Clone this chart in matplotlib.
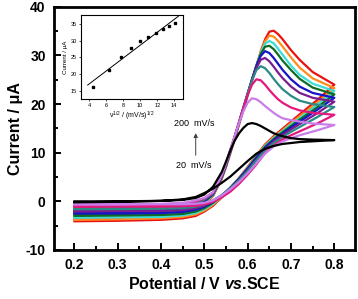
import numpy as np
import matplotlib
matplotlib.use('Agg')
import matplotlib.pyplot as plt
from matplotlib.ticker import MultipleLocator

plt.rcParams['font.family'] = ['Liberation Sans', 'DejaVu Sans']
plt.rcParams['axes.unicode_minus'] = False
plt.rcParams['mathtext.fontset'] = 'custom'
plt.rcParams['mathtext.rm'] = 'Liberation Sans:bold'
plt.rcParams['mathtext.it'] = 'Liberation Sans:italic:bold'

# scan rates (mV/s) and colours of the CV curves
rates = [20, 40, 60, 80, 100, 120, 140, 160, 180, 200]
colors = ['#000000', '#C97DEA', '#E5187D', '#2A8A86', '#7A1D90',
          '#1414C8', '#0E6B22', '#3CDCD8', '#FF8C1E', '#E81212']

# forward scan (0.2 -> 0.8 V)
e_fwd = [0.20, 0.30, 0.40, 0.45, 0.48, 0.50, 0.52, 0.54, 0.55, 0.56, 0.57, 0.58, 0.59,
         0.60, 0.61, 0.62, 0.63, 0.64, 0.65, 0.66, 0.67, 0.68, 0.70, 0.72, 0.75, 0.80]
i_fwd = [
    [0.0, 0.0, 0.1, 0.3, 0.7, 1.4, 3.0, 6.0, 8.2, 10.5, 12.5, 14.0, 15.1, 15.9, 16.1, 15.9, 15.5, 15.0, 14.5, 14.0, 13.7, 13.4, 13.0, 12.8, 12.7, 12.6],
    [-0.6, -0.6, -0.5, -0.3, 0.2, 0.7, 1.9, 5.4, 7.9, 10.7, 13.4, 16.1, 18.5, 20.3, 21.2, 21.0, 20.4, 19.6, 18.9, 18.2, 17.6, 17.1, 16.7, 16.4, 16.0, 15.7],
    [-1.0, -0.9, -0.8, -0.6, 0.0, 0.6, 1.8, 5.3, 7.8, 10.6, 13.4, 16.3, 19.2, 21.9, 24.0, 25.1, 24.9, 24.0, 22.9, 21.9, 21.0, 20.3, 19.3, 18.7, 18.2, 17.8],
    [-1.4, -1.3, -1.2, -1.0, -0.3, 0.4, 1.7, 5.2, 7.7, 10.5, 13.3, 16.3, 19.3, 22.2, 24.9, 27.0, 27.8, 27.4, 26.4, 25.2, 24.1, 23.1, 21.7, 20.7, 20.0, 19.4],
    [-1.8, -1.7, -1.5, -1.3, -0.5, 0.3, 1.6, 5.1, 7.6, 10.4, 13.2, 16.2, 19.2, 22.2, 25.0, 27.4, 29.1, 29.5, 28.8, 27.7, 26.5, 25.4, 23.6, 22.3, 21.3, 20.5],
    [-2.2, -2.1, -1.9, -1.6, -0.8, 0.1, 1.5, 5.0, 7.5, 10.3, 13.2, 16.2, 19.2, 22.2, 25.1, 27.8, 29.9, 30.9, 30.5, 29.5, 28.3, 27.1, 25.1, 23.6, 22.3, 21.3],
    [-2.6, -2.5, -2.2, -1.9, -1.0, -0.1, 1.4, 4.9, 7.4, 10.2, 13.1, 16.1, 19.1, 22.1, 25.1, 27.9, 30.3, 31.8, 32.0, 31.3, 30.2, 29.0, 27.0, 25.2, 23.4, 22.0],
    [-2.9, -2.8, -2.5, -2.1, -1.2, -0.3, 1.3, 4.8, 7.3, 10.1, 13.0, 16.0, 19.0, 22.0, 25.0, 27.9, 30.5, 32.4, 33.0, 32.5, 31.4, 30.2, 27.9, 26.0, 24.2, 22.7],
    [-3.2, -3.1, -2.8, -2.4, -1.4, -0.5, 1.2, 4.7, 7.2, 10.0, 12.9, 15.9, 18.9, 21.9, 24.9, 27.9, 30.7, 32.9, 34.1, 33.9, 33.0, 31.9, 29.6, 27.5, 25.3, 23.3],
    [-3.6, -3.5, -3.1, -2.7, -1.6, -0.7, 1.1, 4.6, 7.1, 9.9, 12.8, 15.8, 18.8, 21.8, 24.8, 27.8, 30.8, 33.3, 34.9, 35.1, 34.4, 33.4, 31.1, 29.1, 26.6, 24.0],
]

# reverse scan (0.8 -> 0.2 V)
e_rev = [0.80, 0.76, 0.72, 0.70, 0.68, 0.66, 0.64, 0.62, 0.60, 0.58,
         0.56, 0.54, 0.52, 0.50, 0.48, 0.45, 0.40, 0.30, 0.20]
i_rev = [
    [12.6, 12.4, 12.2, 12.0, 11.8, 11.4, 10.8, 9.8, 8.3, 6.7, 5.1, 3.8, 2.6, 1.7, 0.9, 0.4, 0.1, -0.1, -0.2],
    [15.7, 14.6, 13.6, 13.0, 12.3, 11.3, 9.8, 7.8, 5.8, 4.0, 2.5, 1.2, 0.2, -0.3, -0.5, -0.6, -0.6, -0.6, -0.6],
    [17.8, 16.0, 14.4, 13.6, 12.7, 11.5, 9.9, 7.6, 5.5, 3.6, 2.0, 0.8, -0.1, -0.6, -0.9, -1.0, -1.1, -1.1, -1.1],
    [19.4, 17.3, 15.3, 14.3, 13.2, 12.0, 10.5, 8.4, 6.2, 4.3, 2.7, 1.3, 0.2, -0.6, -1.1, -1.4, -1.5, -1.6, -1.6],
    [20.5, 18.1, 15.9, 14.8, 13.6, 12.3, 10.7, 8.6, 6.4, 4.4, 2.7, 1.2, 0.0, -0.9, -1.4, -1.8, -2.0, -2.0, -2.1],
    [21.3, 18.8, 16.4, 15.2, 13.9, 12.6, 11.0, 8.9, 6.7, 4.6, 2.8, 1.2, -0.1, -1.1, -1.7, -2.2, -2.4, -2.5, -2.5],
    [22.0, 19.3, 16.8, 15.5, 14.2, 12.8, 11.2, 9.1, 6.8, 4.7, 2.8, 1.1, -0.3, -1.4, -2.1, -2.6, -2.8, -2.9, -3.0],
    [22.7, 19.8, 17.1, 15.8, 14.4, 13.0, 11.4, 9.2, 6.9, 4.7, 2.8, 1.0, -0.5, -1.6, -2.4, -2.9, -3.2, -3.3, -3.4],
    [23.3, 20.3, 17.5, 16.1, 14.6, 13.2, 11.5, 9.3, 7.0, 4.8, 2.8, 0.9, -0.7, -1.9, -2.7, -3.2, -3.5, -3.7, -3.8],
    [24.0, 20.8, 17.9, 16.4, 14.9, 13.4, 11.7, 9.4, 7.1, 4.8, 2.7, 0.8, -0.9, -2.1, -3.0, -3.5, -3.8, -4.0, -4.1],
]

# inset: peak current vs square root of scan rate
sqrt_rate = [4.47, 6.32, 7.75, 8.94, 10.0, 10.95, 11.83, 12.65, 13.42, 14.14]
i_peak = [16.3, 21.3, 25.2, 27.9, 29.9, 31.2, 32.4, 33.4, 34.5, 35.4]

fig = plt.figure(figsize=(3.58, 2.99), dpi=100)
ax = fig.add_axes([0.151, 0.164, 0.841, 0.813])

# draw slowest on top
for k in range(len(rates) - 1, -1, -1):
    e = e_fwd + e_rev
    i = i_fwd[k] + i_rev[k]
    ax.plot(e, i, color=colors[k], lw=1.6, solid_joinstyle='round', zorder=3 + (len(rates) - k) * 0.01)

ax.set_xlim(0.153, 0.848)
ax.set_ylim(-10, 40)
ax.xaxis.set_major_locator(MultipleLocator(0.1))
ax.xaxis.set_minor_locator(MultipleLocator(0.05))
ax.yaxis.set_major_locator(MultipleLocator(10))
ax.yaxis.set_minor_locator(MultipleLocator(5))
ax.tick_params(which='both', direction='in', top=False, right=False, width=1.4)
ax.tick_params(which='major', length=5, pad=6, labelsize=10)
ax.tick_params(which='minor', length=3)
for lab in ax.get_xticklabels() + ax.get_yticklabels():
    lab.set_fontweight('bold')
for sp in ax.spines.values():
    sp.set_linewidth(2)

ax.set_xlabel(r'Potential / V $\mathit{vs}$.SCE', fontsize=11.5, fontweight='bold', labelpad=3)
ax.set_ylabel('Current / μA', fontsize=11.5, fontweight='bold', labelpad=2)

ax.text(0.430, 16.1, '200  mV/s', fontsize=6.5, va='center', ha='left')
ax.text(0.435, 7.3, '20  mV/s', fontsize=6.5, va='center', ha='left')
ax.annotate('', xy=(0.480, 14.6), xytext=(0.480, 8.9),
            arrowprops=dict(arrowstyle='-|>', color='0.25', lw=0.7, mutation_scale=6))

# inset
ins = fig.add_axes([0.226, 0.668, 0.284, 0.282])
ins.plot(sqrt_rate, i_peak, 's', color='black', ms=1.6)
k_fit, b_fit = np.polyfit(sqrt_rate, i_peak, 1)
xf = np.array([3.8, 14.5])
ins.plot(xf, k_fit * xf + b_fit, color='black', lw=0.7)
ins.set_xlim(3, 15)
ins.set_ylim(12.5, 37.7)
ins.set_xticks([4, 6, 8, 10, 12, 14])
ins.set_yticks([15, 20, 25, 30, 35])
ins.tick_params(labelsize=4, length=1.5, width=0.5, pad=1.5)
for sp in ins.spines.values():
    sp.set_linewidth(0.8)
ins.set_xlabel(r'ν$^{\mathregular{1/2}}$ / (mV/s)$^{\mathregular{1/2}}$', fontsize=5, labelpad=1)
ins.set_ylabel('Current / μA', fontsize=4.5, labelpad=2)

fig.savefig('out.png', dpi=100)
